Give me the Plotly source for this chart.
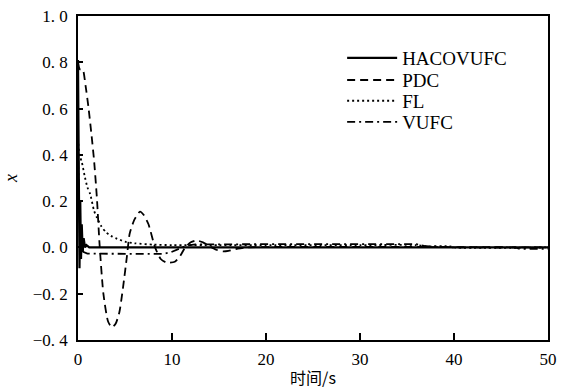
import plotly.graph_objects as go

# HACOVUFC (solid)
t_haco = [0, 0.08, 0.16, 0.24, 0.32, 0.4, 0.5, 0.6, 0.75, 0.9, 1.2, 50]
v_haco = [0.81, 0.45, -0.09, 0.2, -0.05, 0.1, -0.02, 0.04, 0.0, 0.01, 0.0, 0.0]

# PDC (dashed)
t_pdc = [0, 0.2, 0.5, 0.8, 1.1, 1.4, 1.7, 2.0, 2.3, 2.7, 3.2, 3.6, 4.0, 4.4, 4.8, 5.2, 5.5,
         6.0, 6.6, 7.0, 7.5, 8.2, 8.8, 9.4, 10.3, 10.9, 11.4, 12.0, 12.6, 13.3, 14.0, 14.7,
         15.4, 16.0, 17.0, 18.0, 50]
v_pdc = [0.80, 0.77, 0.77, 0.70, 0.61, 0.50, 0.38, 0.22, 0.01, -0.20, -0.32, -0.345, -0.33,
         -0.28, -0.17, -0.04, 0.06, 0.12, 0.155, 0.14, 0.10, 0.0, -0.05, -0.065, -0.062,
         -0.035, 0.0, 0.022, 0.03, 0.022, 0.005, -0.01, -0.017, -0.015, -0.005, 0.0, 0.0]

# FL (dotted)
t_fl = [0, 0.15, 0.4, 0.7, 1.0, 1.3, 1.7, 2.0, 2.5, 3.0, 3.5, 4.0, 5.0, 6.0, 8.0, 10, 15,
        20, 30, 36, 37, 39.6, 40, 50]
v_fl = [0.47, 0.40, 0.37, 0.31, 0.26, 0.23, 0.16, 0.13, 0.09, 0.065, 0.05, 0.04, 0.025,
        0.018, 0.012, 0.01, 0.01, 0.01, 0.01, 0.01, 0.005, 0.005, 0.0, 0.0]

# VUFC (dash-dot)
t_vufc = [0, 0.1, 0.3, 0.6, 1.0, 3, 6, 9.0, 9.8, 10.5, 11.0, 11.6, 12.5, 15, 20, 30, 36,
          37, 40, 46.5, 47, 50]
v_vufc = [0.45, 0.2, 0.0, -0.02, -0.027, -0.028, -0.028, -0.028, -0.022, -0.01, 0.0, 0.008,
          0.013, 0.014, 0.014, 0.014, 0.014, 0.005, 0.0, 0.0, -0.006, -0.006]

x_ticks = [0, 10, 20, 30, 40, 50]
x_ticktext = ["0", "10", "20", "30", "40", "50"]
y_ticks = [-0.4, -0.2, 0.0, 0.2, 0.4, 0.6, 0.8, 1.0]
y_plain = ["\u22120.4", "\u22120.2", "0", "0.2", "0.4", "0.6", "0.8", "1"]
y_ticktext = ["\u22120.\u00a04", "\u22120.\u00a02", "0.\u00a00", "0.\u00a02",
              "0.\u00a04", "0.\u00a06", "0.\u00a08", "1.\u00a00"]

SERIF = "Liberation Serif"

# alias map in case the automatic labels are shown
alias = {}
for p, s in zip(y_plain, y_ticktext):
    alias[p] = s
    alias[p.replace("\u2212", "-")] = s
alias["0.0"] = "0.\u00a00"
alias["1.0"] = "1.\u00a00"

fig = go.Figure()
fig.add_trace(go.Scatter(x=t_haco, y=v_haco, mode="lines", name="HACOVUFC", legend="legend",
                         line=dict(color="black", width=2.2, dash="solid")))
fig.add_trace(go.Scatter(x=t_pdc, y=v_pdc, mode="lines", name="PDC", legend="legend2",
                         line=dict(color="black", width=1.8, dash="8px,5px", shape="spline", smoothing=0.6)))
fig.add_trace(go.Scatter(x=t_fl, y=v_fl, mode="lines", name="FL", legend="legend3",
                         line=dict(color="black", width=1.8, dash="2px,3px", shape="spline", smoothing=0.6)))
fig.add_trace(go.Scatter(x=t_vufc, y=v_vufc, mode="lines", name="VUFC", legend="legend4",
                         line=dict(color="black", width=1.8, dash="8px,4px,2px,4px")))

def leg(y):
    return dict(x=0.562, y=y, xanchor="left", yanchor="middle",
                font=dict(family=SERIF, size=19, color="black"),
                bgcolor="rgba(0,0,0,0)", itemwidth=50)

fig.update_layout(
    width=561, height=389,
    margin=dict(l=78, r=13, t=16, b=49),
    paper_bgcolor="white", plot_bgcolor="white",
    font=dict(family=SERIF, size=17, color="black"),
    showlegend=True,
    legend=leg(0.870), legend2=leg(0.802), legend3=leg(0.738), legend4=leg(0.673),
)
fig.update_xaxes(range=[0, 50], tickmode="array", tickvals=x_ticks, ticktext=x_ticktext,
                 ticks="inside", ticklen=7, tickcolor="black", tickwidth=1.5,
                 showline=True, linecolor="black", linewidth=1.5, mirror=True,
                 showgrid=False, zeroline=False, automargin=False, ticklabelstandoff=3,
                 tickfont=dict(family=SERIF, size=17, color="black"),
                 title=dict(text="时间/s", font=dict(family="Noto Sans CJK SC", size=16, color="black"),
                            standoff=6))
fig.update_yaxes(range=[-0.4, 1.0], tickmode="array", tickvals=y_ticks, ticktext=y_ticktext,
                 labelalias=alias,
                 ticks="inside", ticklen=5, tickcolor="black", tickwidth=1.5,
                 showline=True, linecolor="black", linewidth=1.5, mirror=True,
                 showgrid=False, zeroline=False, automargin=False, ticklabelstandoff=5,
                 tickfont=dict(family=SERIF, size=17, color="black"),
                 title=dict(text="<i>x</i>", font=dict(family=SERIF, size=18, color="black"),
                            standoff=10))

fig.write_html("out.html")
